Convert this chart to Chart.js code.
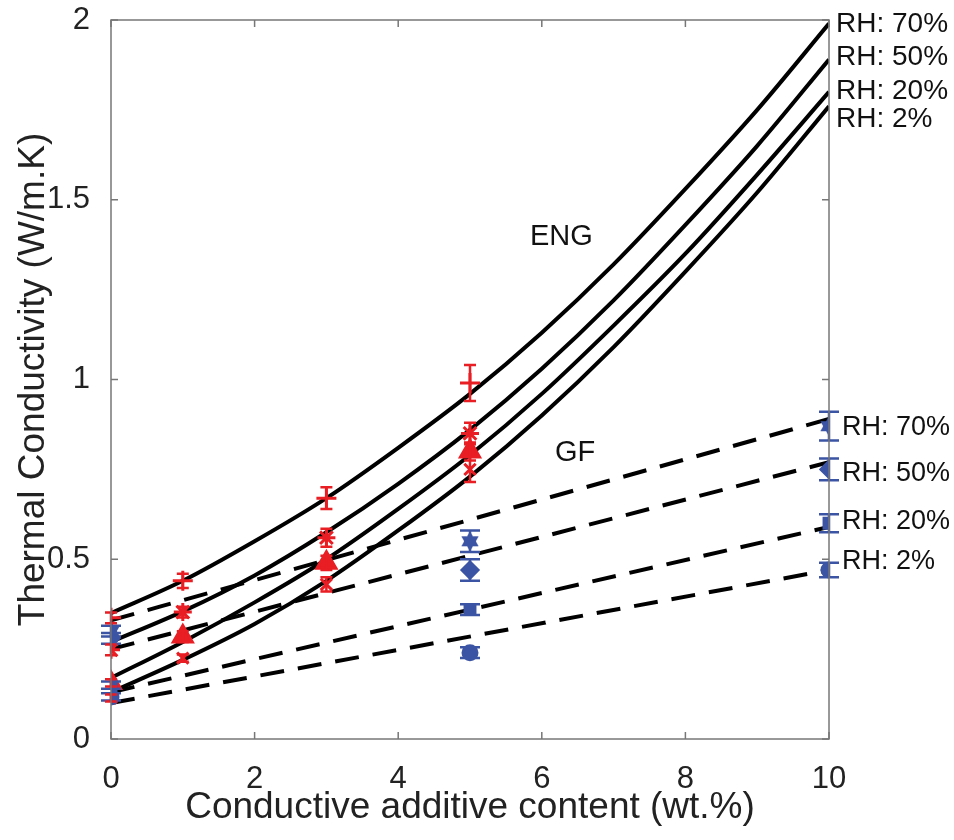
<!DOCTYPE html>
<html>
<head>
<meta charset="utf-8">
<script src="https://cdn.jsdelivr.net/npm/chart.js@4.4.0/dist/chart.umd.min.js"></script>
<style>
  html, body { margin: 0; padding: 0; background: #fff; }
  #wrap { width: 954px; height: 840px; }
</style>
</head>
<body>
<div id="wrap"><canvas id="kChart" width="954" height="840"></canvas></div>
<script>
// fitted curves, ENG (solid) sampled at each wt.%
var curveX = [0, 1, 2, 3, 4, 5, 6, 7, 8, 9, 10];
var engFit70 = [0.35, 0.44, 0.55, 0.67, 0.81, 0.96, 1.13, 1.32, 1.53, 1.75, 1.99];
var engFit50 = [0.27, 0.355, 0.455, 0.575, 0.71, 0.86, 1.03, 1.22, 1.43, 1.65, 1.89];
var engFit20 = [0.17, 0.27, 0.38, 0.50, 0.64, 0.79, 0.96, 1.15, 1.35, 1.57, 1.80];
var engFit2 = [0.13, 0.22, 0.32, 0.44, 0.58, 0.73, 0.90, 1.09, 1.30, 1.52, 1.76];

// linear fits, GF (dashed)
var gfFitX = [0, 10];
var gfFit70 = [0.33, 0.89];
var gfFit50 = [0.25, 0.77];
var gfFit20 = [0.13, 0.59];
var gfFit2 = [0.10, 0.47];

// measured points with error bars
var engX = [0, 1, 3, 5];
var eng70 = [0.337, 0.44, 0.67, 0.99];
var eng70Err = [0.015, 0.02, 0.03, 0.05];
var eng50 = [0.248, 0.353, 0.56, 0.85];
var eng50Err = [0.015, 0.015, 0.025, 0.03];
var eng20 = [0.156, 0.285, 0.49, 0.80];
var eng20Err = [0.01, 0.015, 0.02, 0.025];
var eng2 = [0.114, 0.225, 0.43, 0.75];
var eng2Err = [0.01, 0.01, 0.02, 0.035];

var gfX = [0, 5, 10];
var gf70 = [0.30, 0.55, 0.87];
var gf70Err = [0.015, 0.03, 0.04];
var gf50 = [0.28, 0.47, 0.75];
var gf50Err = [0.015, 0.03, 0.03];
var gf20 = [0.15, 0.36, 0.60];
var gf20Err = [0.01, 0.015, 0.025];
var gf2 = [0.117, 0.24, 0.47];
var gf2Err = [0.01, 0.015, 0.02];

var xTicks = [0, 2, 4, 6, 8, 10];
var yTicks = [0, 0.5, 1, 1.5, 2];

var RED = 'rgb(232, 30, 36)';
var BLUE = 'rgb(60, 84, 164)';
var FONT = '"Liberation Sans", Arial, sans-serif';

function pts(xs, ys) {
    return xs.map(function (x, i) { return { x: x, y: ys[i] }; });
}

// six-pointed star marker
function hexagram(size, color) {
    var c = document.createElement('canvas');
    c.width = size; c.height = size;
    var g = c.getContext('2d');
    var r = size / 2, cx = size / 2, cy = size / 2;
    g.fillStyle = color;
    [-Math.PI / 2, Math.PI / 2].forEach(function (a0) {
        g.beginPath();
        for (var k = 0; k < 3; k++) {
            var a = a0 + k * 2 * Math.PI / 3;
            var px = cx + r * Math.cos(a), py = cy + r * Math.sin(a);
            if (k === 0) g.moveTo(px, py); else g.lineTo(px, py);
        }
        g.closePath();
        g.fill();
    });
    return c;
}

function fitLine(xs, ys, dashed) {
    return {
        type: 'line',
        data: pts(xs, ys),
        borderColor: '#000',
        borderWidth: 4,
        borderDash: dashed ? [24, 14] : [],
        pointRadius: 0,
        cubicInterpolationMode: 'monotone',
        fill: false,
        order: 2
    };
}

function markers(xs, ys, errs, color, style, radius) {
    return {
        type: 'scatter',
        data: pts(xs, ys),
        errors: errs,
        barColor: color,
        capHalf: color === RED ? 6 : 10,
        backgroundColor: color,
        borderColor: color,
        borderWidth: 3,
        pointStyle: style,
        pointRadius: radius,
        order: 1
    };
}

// inner ticks, box, error bars and RH labels
var extras = {
    id: 'extras',
    afterDatasetsDraw: function (chart) {
        var ctx = chart.ctx;
        var xs = chart.scales.x, ys = chart.scales.y;
        ctx.save();
        chart.data.datasets.forEach(function (ds) {
            if (!ds.errors) return;
            ctx.strokeStyle = ds.barColor;
            ctx.lineWidth = 2.5;
            ds.data.forEach(function (p, i) {
                var e = ds.errors[i];
                var px = xs.getPixelForValue(p.x);
                var top = ys.getPixelForValue(p.y + e);
                var bot = ys.getPixelForValue(p.y - e);
                ctx.beginPath();
                ctx.moveTo(px, top); ctx.lineTo(px, bot);
                ctx.moveTo(px - ds.capHalf, top); ctx.lineTo(px + ds.capHalf, top);
                ctx.moveTo(px - ds.capHalf, bot); ctx.lineTo(px + ds.capHalf, bot);
                ctx.stroke();
            });
        });

        var a = chart.chartArea;
        ctx.strokeStyle = '#777';
        ctx.lineWidth = 1.5;
        ctx.strokeRect(a.left, a.top, a.right - a.left, a.bottom - a.top);
        ctx.beginPath();
        xTicks.forEach(function (v) {
            var px = xs.getPixelForValue(v);
            ctx.moveTo(px, a.bottom); ctx.lineTo(px, a.bottom - 7);
            ctx.moveTo(px, a.top); ctx.lineTo(px, a.top + 7);
        });
        yTicks.forEach(function (v) {
            var py = ys.getPixelForValue(v);
            ctx.moveTo(a.left, py); ctx.lineTo(a.left + 7, py);
            ctx.moveTo(a.right, py); ctx.lineTo(a.right - 7, py);
        });
        ctx.stroke();

        ctx.fillStyle = '#111';
        ctx.textBaseline = 'middle';
        ctx.textAlign = 'left';
        ctx.font = '28px ' + FONT;
        [['RH: 70%', 24], ['RH: 50%', 57], ['RH: 20%', 91], ['RH: 2%', 119]].forEach(function (t) {
            ctx.fillText(t[0], a.right + 7, t[1]);
        });
        ctx.font = '27px ' + FONT;
        [['RH: 70%', 428], ['RH: 50%', 474], ['RH: 20%', 522], ['RH: 2%', 562]].forEach(function (t) {
            ctx.fillText(t[0], a.right + 13, t[1]);
        });
        ctx.font = '29px ' + FONT;
        ctx.fillText('ENG', 530, 237);
        ctx.fillText('GF', 555, 453);
        ctx.restore();
    }
};

var ctx = document.getElementById('kChart');
var myChart = new Chart(ctx, {
    data: {
        datasets: [
            fitLine(curveX, engFit70, false),
            fitLine(curveX, engFit50, false),
            fitLine(curveX, engFit20, false),
            fitLine(curveX, engFit2, false),
            fitLine(gfFitX, gfFit70, true),
            fitLine(gfFitX, gfFit50, true),
            fitLine(gfFitX, gfFit20, true),
            fitLine(gfFitX, gfFit2, true),
            markers(gfX, gf70, gf70Err, BLUE, hexagram(20, BLUE), 10),
            markers(gfX, gf50, gf50Err, BLUE, 'rectRot', 8),
            markers(gfX, gf20, gf20Err, BLUE, 'rect', 7),
            markers(gfX, gf2, gf2Err, BLUE, 'circle', 7),
            markers(engX, eng70, eng70Err, RED, 'cross', 10),
            markers(engX, eng50, eng50Err, RED, 'star', 9),
            markers(engX, eng20, eng20Err, RED, 'triangle', 11),
            markers(engX, eng2, eng2Err, RED, 'crossRot', 8)
        ]
    },
    options: {
        responsive: false,
        animation: false,
        layout: { padding: { top: 20, right: 125, left: 0, bottom: 0 } },
        plugins: { legend: { display: false }, tooltip: { enabled: false } },
        scales: {
            x: {
                type: 'linear',
                min: 0, max: 10,
                grid: { display: false },
                border: { display: false },
                afterBuildTicks: function (s) { s.ticks = xTicks.map(function (v) { return { value: v }; }); },
                afterFit: function (s) {
                    s.height = 101;
                    s.paddingLeft = 0;
                    s.paddingRight = 0;
                },
                ticks: {
                    color: '#222',
                    padding: 14,
                    callback: function (v) { return String(v); },
                    font: { size: 31, family: FONT }
                },
                title: {
                    display: true,
                    text: 'Conductive additive content (wt.%)',
                    color: '#222',
                    padding: { top: 0, bottom: 10 },
                    font: { size: 37, family: FONT }
                }
            },
            y: {
                type: 'linear',
                min: 0, max: 2,
                grid: { display: false },
                border: { display: false },
                afterBuildTicks: function (s) { s.ticks = yTicks.map(function (v) { return { value: v }; }); },
                afterFit: function (s) {
                    s.width = 111;
                    s.paddingTop = 0;
                    s.paddingBottom = 0;
                },
                ticks: {
                    color: '#222',
                    padding: 13,
                    callback: function (v) { return String(v); },
                    font: { size: 31, family: FONT }
                },
                title: {
                    display: true,
                    text: 'Thermal Conductivity (W/m.K)',
                    color: '#222',
                    padding: { top: 12, bottom: 0 },
                    font: { size: 37, family: FONT }
                }
            }
        }
    },
    plugins: [extras]
});
</script>
</body>
</html>
